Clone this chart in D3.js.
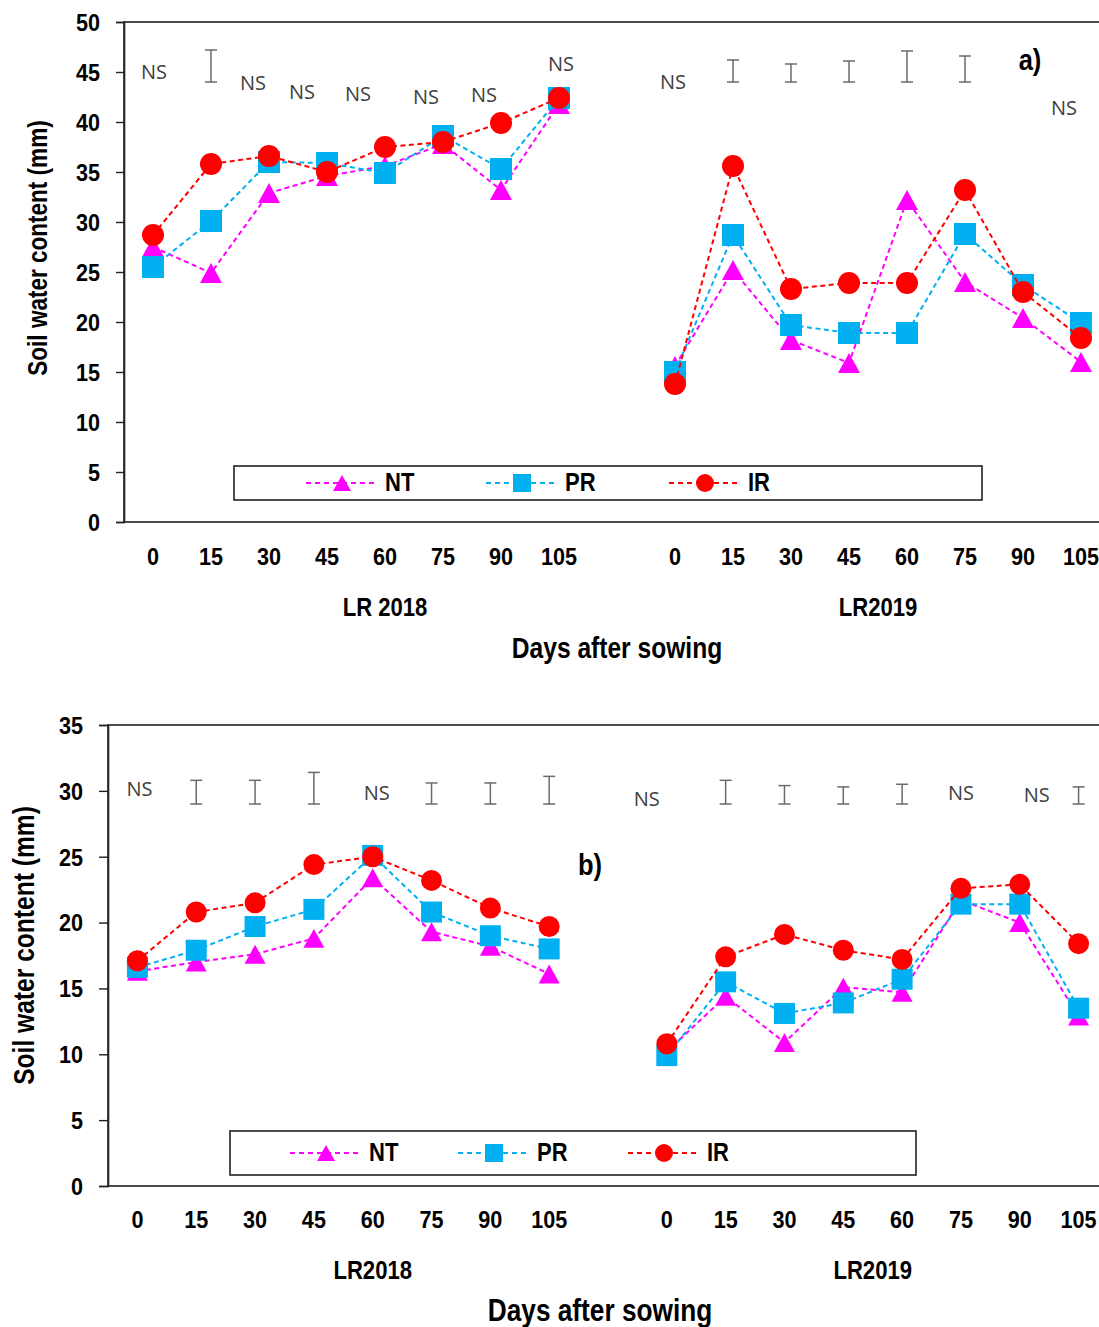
<!DOCTYPE html>
<html><head><meta charset="utf-8">
<script src="https://cdn.jsdelivr.net/npm/d3@7"></script>
<style>body{margin:0;background:#fff}svg{display:block}</style>
</head><body>
<svg id="c" width="1099" height="1327"></svg>
<script>
// ---------- DATA ----------
const days = [0, 15, 30, 45, 60, 75, 90, 105];
const seriesNames = ["NT", "PR", "IR"];
const seasonsA = ["LR 2018", "LR2019"];
const seasonsB = ["LR2018", "LR2019"];
const yTicksA = [0, 5, 10, 15, 20, 25, 30, 35, 40, 45, 50];
const yTicksB = [0, 5, 10, 15, 20, 25, 30, 35];

// panel a) soil water content (mm)
const a2018_NT = [27.5, 24.9, 32.9, 34.6, 35.6, 37.8, 33.2, 41.8];
const a2018_PR = [25.5, 30.1, 36.0, 35.9, 34.9, 38.6, 35.3, 42.4];
const a2018_IR = [28.7, 35.8, 36.6, 35.0, 37.5, 38.0, 39.9, 42.4];
const a2019_NT = [15.6, 25.2, 18.2, 15.9, 32.2, 24.0, 20.4, 16.0];
const a2019_PR = [15.0, 28.7, 19.7, 18.9, 18.9, 28.8, 23.7, 19.9];
const a2019_IR = [13.8, 35.6, 23.3, 23.9, 23.9, 33.2, 23.0, 18.4];

// panel b) soil water content (mm)
const b2018_NT = [16.3, 17.0, 17.6, 18.8, 23.4, 19.3, 18.2, 16.1];
const b2018_PR = [16.6, 17.9, 19.7, 21.0, 25.1, 20.8, 19.0, 18.0];
const b2018_IR = [17.1, 20.8, 21.5, 24.4, 25.0, 23.2, 21.1, 19.7];
const b2019_NT = [10.2, 14.4, 10.9, 15.1, 14.7, 21.7, 20.0, 12.9];
const b2019_PR = [9.9, 15.5, 13.1, 13.9, 15.7, 21.4, 21.4, 13.5];
const b2019_IR = [10.8, 17.4, 19.1, 17.9, 17.2, 22.6, 22.9, 18.4];

// significance annotations: NS label (value) or LSD bar (lo..hi), per season/day
const aSig2018 = [{d:0,ns:45.1,dx:1},{d:15,lo:44.0,hi:47.2},{d:30,ns:44.0,dx:-16},{d:45,ns:43.1,dx:-25},
                  {d:60,ns:42.9,dx:-27},{d:75,ns:42.6,dx:-17},{d:90,ns:42.8,dx:-17},{d:105,ns:45.9,dx:2}];
const aSig2019 = [{d:0,ns:44.1,dx:-2},{d:15,lo:44.0,hi:46.2},{d:30,lo:44.0,hi:45.8},{d:45,lo:44.0,hi:46.1},
                  {d:60,lo:44.0,hi:47.1},{d:75,lo:44.0,hi:46.6},{d:105,ns:41.5,dx:-17}];
const bSig2018 = [{d:0,ns:30.2,dx:2},{d:15,lo:29.0,hi:30.8},{d:30,lo:29.0,hi:30.8},{d:45,lo:29.0,hi:31.4},
                  {d:60,ns:29.9,dx:4},{d:75,lo:29.0,hi:30.6},{d:90,lo:29.0,hi:30.6},{d:105,lo:29.0,hi:31.1}];
const bSig2019 = [{d:0,ns:29.4,dx:-20},{d:15,lo:29.0,hi:30.8},{d:30,lo:29.0,hi:30.4},{d:45,lo:29.0,hi:30.3},
                  {d:60,lo:29.0,hi:30.5},{d:75,ns:29.9,dx:0},{d:90,ns:29.7,dx:17},{d:105,lo:29.0,hi:30.3}];

// ---------- DRAWING ----------
const colors = {NT: "#FF00FF", PR: "#00B0F0", IR: "#FF0000"};
const svg = d3.select("#c");
const FONT = "'Liberation Sans', Arial, sans-serif";

function txt(g, x, y, s, o) {
  o = o || {};
  let tr = `translate(${x},${y})`;
  if (o.rotate) tr += ` rotate(${o.rotate})`;
  tr += ` scale(${o.sx || 1},1)`;
  return g.append("text").attr("transform", tr)
    .attr("text-anchor", o.anchor || "middle")
    .attr("dominant-baseline", "central")
    .style("font-family", o.family || FONT)
    .style("font-weight", o.weight || "bold")
    .style("font-size", o.size + "px")
    .attr("fill", o.fill || "#000")
    .text(s);
}

function marker(g, name, cx, cy, sz) {
  const c = colors[name];
  if (name === "IR") {
    g.append("circle").attr("cx", cx).attr("cy", cy).attr("r", sz / 2).attr("fill", c);
  } else if (name === "PR") {
    g.append("rect").attr("x", cx - sz / 2).attr("y", cy - sz / 2).attr("width", sz).attr("height", sz).attr("fill", c);
  } else {
    const h = sz * 0.9;
    g.append("path").attr("d", `M${cx},${cy - h / 2}L${cx + sz / 2},${cy + h / 2}L${cx - sz / 2},${cy + h / 2}Z`).attr("fill", c);
  }
}

function panel(cfg) {
  const g = svg.append("g");
  const cats = [...days.map(d => "A" + d), "gap", ...days.map(d => "B" + d)];
  const x = d3.scaleBand().domain(cats).range([cfg.x0, cfg.x1]);
  const bw = x.bandwidth();
  const cx = k => x(k) + bw / 2;
  const y = d3.scaleLinear().domain([0, d3.max(cfg.yTicks)]).range([cfg.yb, cfg.yt]);

  // frame
  g.append("rect").attr("x", cfg.x0).attr("y", cfg.yt).attr("width", cfg.x1 - cfg.x0).attr("height", cfg.yb - cfg.yt)
    .attr("fill", "none").attr("stroke", "#222").attr("stroke-width", 1.6);

  // y axis
  const ya = g.append("g").attr("transform", `translate(${cfg.x0},0)`)
    .call(d3.axisLeft(y).tickValues(cfg.yTicks).tickSize(cfg.tickLen).tickPadding(cfg.tickPad));
  ya.select(".domain").attr("stroke", "#222").attr("stroke-width", 1.6);
  ya.selectAll(".tick line").attr("stroke", "#222").attr("stroke-width", 1.4);
  ya.selectAll(".tick text").each(function () {
    const xx = +this.getAttribute("x");
    d3.select(this).attr("x", 0).attr("dy", null).attr("dominant-baseline", "central")
      .attr("transform", `translate(${xx},0) scale(0.9,1)`)
      .style("font-family", FONT).style("font-weight", "bold").style("font-size", cfg.tickFont + "px").attr("fill", "#000");
  });

  // x axis labels
  const xa = g.append("g").attr("transform", `translate(0,${cfg.yb})`)
    .call(d3.axisBottom(x).tickValues(cats.filter(c => c !== "gap")).tickSize(0).tickPadding(0).tickFormat(k => k.slice(1)));
  xa.select(".domain").remove();
  xa.selectAll(".tick text").attr("y", 0).attr("dy", null).attr("dominant-baseline", "central")
    .attr("transform", `translate(0,${cfg.xLabOff}) scale(0.9,1)`)
    .style("font-family", FONT).style("font-weight", "bold").style("font-size", cfg.tickFont + "px").attr("fill", "#000");

  // season labels & axis titles
  const gx = i => cfg.x0 + (i + 0.5) * bw;
  txt(g, gx(4), cfg.seasonY, cfg.seasons[0], {size: 26, sx: 0.85});
  txt(g, gx(12.5), cfg.seasonY, cfg.seasons[1], {size: 26, sx: 0.85});
  txt(g, gx(8) + cfg.titleDx, cfg.titleY, "Days after sowing", {size: cfg.titleFont, sx: 0.82});
  txt(g, cfg.yTitleX, (cfg.yt + cfg.yb) / 2 + cfg.yTitleDy, "Soil water content (mm)", {size: cfg.yTitleFont, sx: 0.82, rotate: -90});
  txt(g, cfg.tag[0], cfg.tag[1], cfg.tagText, {size: 29, sx: 0.88});

  // significance
  [["A", cfg.sig[0]], ["B", cfg.sig[1]]].forEach(([p, arr]) => {
    arr.forEach(s => {
      const xx = cx(p + s.d);
      if (s.ns !== undefined) {
        txt(g, xx + s.dx, y(s.ns), "NS", {size: 20, weight: "normal", family: "'Open Sans', 'Noto Sans', sans-serif", fill: "#404040"});
      } else {
        const l = (x1, y1, x2, y2) => g.append("line").attr("x1", x1).attr("y1", y1).attr("x2", x2).attr("y2", y2)
          .attr("stroke", "#6a6a6a").attr("stroke-width", 1.5);
        l(xx, y(s.lo), xx, y(s.hi));
        l(xx - 6, y(s.lo), xx + 6, y(s.lo));
        l(xx - 6, y(s.hi), xx + 6, y(s.hi));
      }
    });
  });

  // series
  const line = d3.line().x(d => cx(d.k)).y(d => y(d.v));
  seriesNames.forEach(name => {
    const sg = g.append("g");
    [["A", cfg.data[name][0]], ["B", cfg.data[name][1]]].forEach(([p, vals]) => {
      const pts = vals.map((v, i) => ({k: p + days[i], v}));
      sg.append("path").datum(pts).attr("d", line).attr("fill", "none")
        .attr("stroke", colors[name]).attr("stroke-width", 2).attr("stroke-dasharray", "5,3.5");
    });
    [["A", cfg.data[name][0]], ["B", cfg.data[name][1]]].forEach(([p, vals]) => {
      vals.forEach((v, i) => marker(sg, name, cx(p + days[i]), y(v), cfg.markSize));
    });
  });

  // legend
  const L = cfg.legend;
  g.append("rect").attr("x", L.x).attr("y", L.y).attr("width", L.w).attr("height", L.h)
    .attr("fill", "#fff").attr("stroke", "#222").attr("stroke-width", 1.6);
  const ly = L.y + L.h / 2;
  seriesNames.forEach((name, i) => {
    const mx = L.items[i];
    g.append("line").attr("x1", mx - 36).attr("x2", mx + 36).attr("y1", ly).attr("y2", ly)
      .attr("stroke", colors[name]).attr("stroke-width", 2).attr("stroke-dasharray", "5,4");
    marker(g, name, mx, ly, 18);
    txt(g, mx + 43, ly, name, {size: 25, sx: 0.88, anchor: "start"});
  });
}

panel({
  x0: 124, x1: 1110, yt: 22, yb: 522, yTicks: yTicksA, tickLen: 8, tickPad: 16, tickFont: 24,
  xLabOff: 35, seasonY: 607, seasons: seasonsA, titleY: 648, titleDx: 0, titleFont: 30,
  yTitleX: 37, yTitleDy: -24, yTitleFont: 27.5, tag: [1030, 60], tagText: "a)", markSize: 22,
  sig: [aSig2018, aSig2019],
  data: {NT: [a2018_NT, a2019_NT], PR: [a2018_PR, a2019_PR], IR: [a2018_IR, a2019_IR]},
  legend: {x: 234, y: 466, w: 748, h: 34, items: [342, 522, 705]}
});

panel({
  x0: 108, x1: 1108, yt: 725, yb: 1186, yTicks: yTicksB, tickLen: 9, tickPad: 16, tickFont: 24,
  xLabOff: 34, seasonY: 1270, seasons: seasonsB, titleY: 1310, titleDx: -8, titleFont: 32,
  yTitleX: 24, yTitleDy: -10, yTitleFont: 30, tag: [590, 865], tagText: "b)", markSize: 21,
  sig: [bSig2018, bSig2019],
  data: {NT: [b2018_NT, b2019_NT], PR: [b2018_PR, b2019_PR], IR: [b2018_IR, b2019_IR]},
  legend: {x: 230, y: 1131, w: 686, h: 44, items: [326, 494, 664]}
});
</script>
</body></html>
